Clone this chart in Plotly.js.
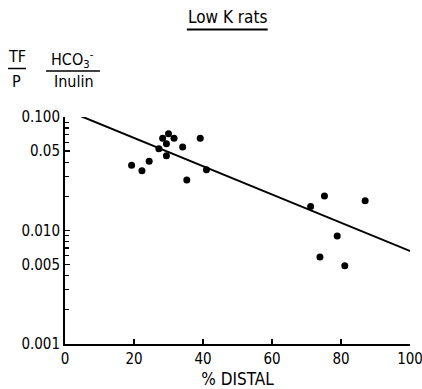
<!DOCTYPE html>
<html><head><meta charset="utf-8">
<script src="https://cdn.plot.ly/plotly-3.0.1.min.js"></script>
<style>html,body{margin:0;padding:0;background:#fff}#chart{width:422px;height:389px}</style>
</head><body><div id="chart"></div>
<script>
// Data (% distal vs TF/P HCO3-/inulin)
const pctDistal = [19.3, 22.3, 24.4, 27.2, 28.3, 30.0, 29.4, 31.6, 29.4, 34.1, 35.3, 39.2, 41.0, 71.2, 75.2, 87.0, 78.9, 73.9, 81.1];
const tfpRatio  = [0.0375, 0.0336, 0.0407, 0.0526, 0.0649, 0.0713, 0.0582, 0.0649, 0.0456, 0.0544, 0.0279, 0.0649, 0.0343, 0.0163, 0.0201, 0.0183, 0.00895, 0.00585, 0.0049];
const fitX = [4.5, 100.5];
const fitY = [0.102, 0.0065];
const xTickVals = [0, 20, 40, 60, 80, 100];
const xTickText = ["0", "20", "40", "60", "80", "100"];
const yTickVals = [0.001, 0.005, 0.01, 0.05, 0.1];
const yTickText = ["0.001", "0.005", "0.010", "0.05", "0.100"];
const yMinorVals = [0.002,0.003,0.004,0.006,0.007,0.008,0.009,0.02,0.03,0.04,0.06,0.07,0.08,0.09];

const FONT = "Liberation Sans Narrow, DejaVu Sans Condensed, Arial Narrow, Liberation Sans, sans-serif";

const traces = [
  {x: fitX, y: fitY, mode: "lines", line: {color: "#000", width: 2}, cliponaxis: false, hoverinfo: "skip"},
  {x: pctDistal, y: tfpRatio, mode: "markers", marker: {color: "#000", size: 7}, cliponaxis: false}
];

const plotW = 422 - 65 - 11.5, plotH = 389 - 117 - 45;
function px(x){ return (x - 65) / plotW; }
function py(y){ return (389 - 45 - y) / plotH; }

const layout = {
  width: 422, height: 389,
  margin: {l: 65, r: 11.5, t: 117, b: 45, pad: 0},
  paper_bgcolor: "#fff", plot_bgcolor: "#fff",
  showlegend: false,
  font: {family: FONT, size: 15, color: "#000"},
  xaxis: {
    range: [0, 100], showgrid: false, zeroline: false,
    showline: true, linecolor: "#000", linewidth: 2,
    ticks: "inside", ticklen: 5, tickwidth: 1.5, tickcolor: "#000",
    tickvals: xTickVals, ticktext: xTickText, ticklabeloverflow: "allow",
    tickfont: {family: FONT, size: 15},
    title: {text: "% DISTAL", font: {family: FONT, size: 17}, standoff: 6}
  },
  yaxis: {
    type: "log", range: [-3, -1], showgrid: false, zeroline: false,
    showline: true, linecolor: "#000", linewidth: 2,
    ticks: "inside", ticklen: 5, tickwidth: 1.5, tickcolor: "#000",
    tickvals: yTickVals, ticktext: yTickText,
    tickfont: {family: FONT, size: 15},
    minor: {tickvals: yMinorVals, ticks: "inside", ticklen: 4, tickwidth: 1.2, tickcolor: "#000", showgrid: false}
  },
  annotations: [
    {text: "Low K rats", x: px(228), y: py(17), xref: "paper", yref: "paper", xanchor: "center", yanchor: "middle", showarrow: false, font: {family: FONT, size: 17}},
    {text: "TF", x: px(17), y: py(57), xref: "paper", yref: "paper", xanchor: "center", yanchor: "middle", showarrow: false, font: {family: FONT, size: 16}},
    {text: "P", x: px(16), y: py(82), xref: "paper", yref: "paper", xanchor: "center", yanchor: "middle", showarrow: false, font: {family: FONT, size: 16}},
    {text: "HCO<sub>3</sub><sup>-</sup>", x: px(73), y: py(59), xref: "paper", yref: "paper", xanchor: "center", yanchor: "middle", showarrow: false, font: {family: FONT, size: 16}},
    {text: "Inulin", x: px(74), y: py(82), xref: "paper", yref: "paper", xanchor: "center", yanchor: "middle", showarrow: false, font: {family: FONT, size: 16}}
  ],
  shapes: [
    {type: "line", xref: "paper", yref: "paper", x0: px(187), x1: px(268), y0: py(29.5), y1: py(29.5), line: {color: "#000", width: 2}},
    {type: "line", xref: "paper", yref: "paper", x0: px(8), x1: px(26), y0: py(68.5), y1: py(68.5), line: {color: "#000", width: 1.5}},
    {type: "line", xref: "paper", yref: "paper", x0: px(46), x1: px(100), y0: py(71), y1: py(71), line: {color: "#000", width: 1.5}}
  ]
};

Plotly.newPlot("chart", traces, layout, {staticPlot: true});
</script></body></html>
